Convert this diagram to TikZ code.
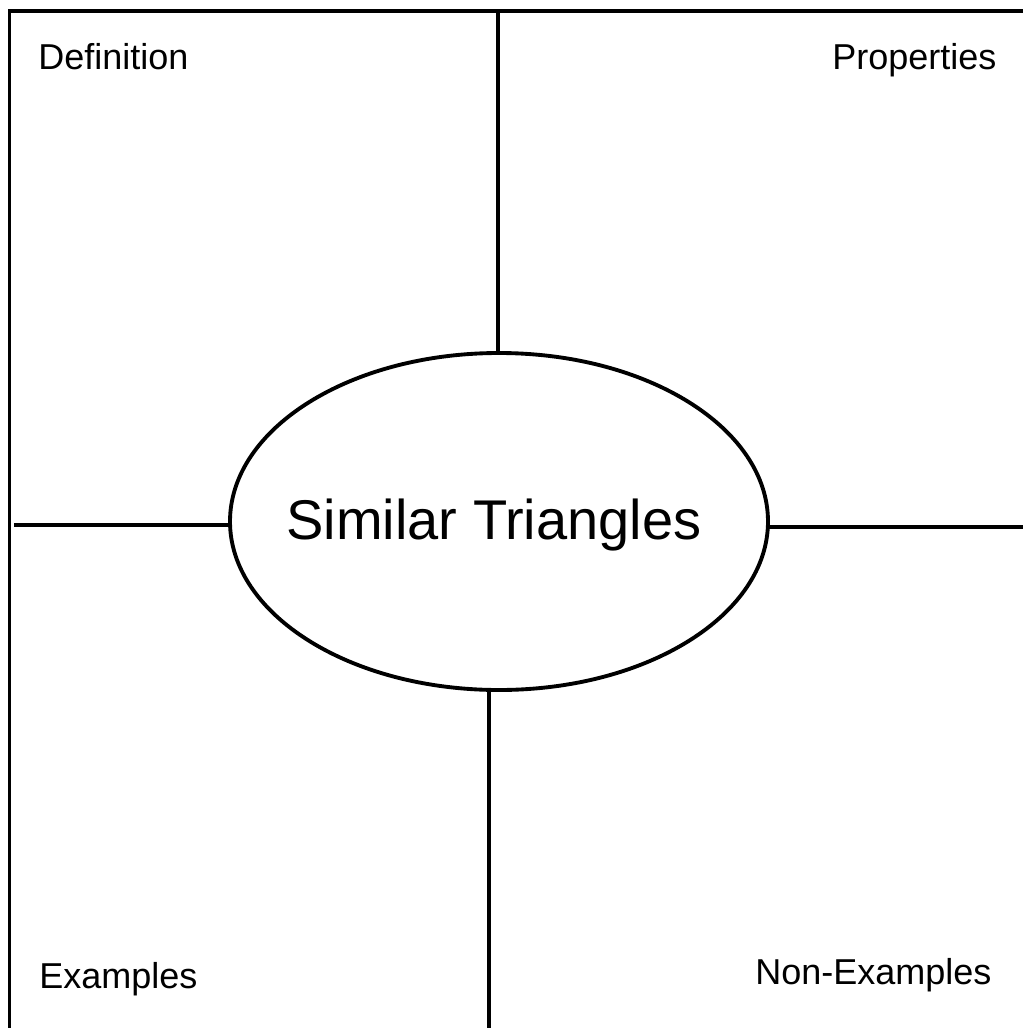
\documentclass[tikz,border=0pt]{standalone}
\usepackage{fontspec}
\setmainfont{Liberation Sans}
\usetikzlibrary{shapes.geometric}
\begin{document}
\begin{tikzpicture}[x=0.75pt,y=-0.75pt,
  frame/.style={line width=2.9pt, line cap=butt, line join=miter},
  lbl/.style={font=\fontsize{27pt}{32pt}\selectfont, inner sep=0pt, anchor=base west},
  oval/.style={ellipse, draw, line width=2.9pt, minimum width=403.5pt, minimum height=252.75pt, inner sep=0pt}]
\useasboundingbox (0,0) rectangle (1023,1028);
\fill[white] (0,0) rectangle (1023,1028);
% central ellipse
\node[oval] (e) at (499,521.5) {};
\node[font=\fontsize{42pt}{50pt}\selectfont, inner sep=0pt, anchor=base] (title) at (494,539) {Similar Triangles};
% frame
\coordinate (tr) at (1030,11);
\coordinate (tl) at (9.5,11);
\coordinate (bl) at (9.5,1035);
\draw[frame] (tr) -- (tl) -- (bl);
% dividers
\coordinate (topT) at (498,11);
\coordinate (botB) at (489,1035);
\coordinate (leftL) at (14,525);
\coordinate (rightR) at (1030,527);
\draw[frame] (topT) -- (topT |- e.north);
\draw[frame] (botB) -- (489,690);
\draw[frame] (leftL) -- (230,525);
\draw[frame] (rightR) -- (767.5,527);
% labels
\node[lbl] (def) at (38,69) {Definition};
\node[lbl] (prop) at (832,69) {Properties};
\node[lbl] (ex) at (39,988) {Examples};
\node[lbl] (nonex) at (755,984) {Non-Examples};
\end{tikzpicture}
\end{document}
